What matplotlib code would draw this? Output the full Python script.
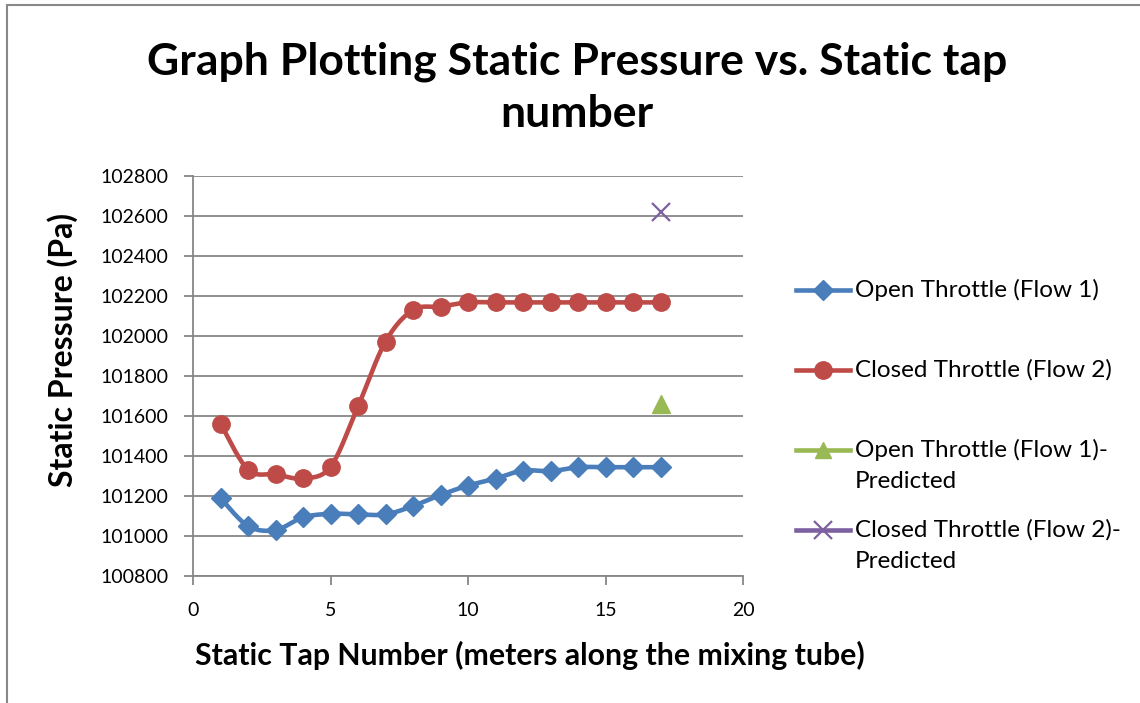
import numpy as np
import matplotlib.pyplot as plt
from matplotlib.lines import Line2D
from matplotlib.patches import Rectangle

plt.rcParams['font.family'] = ['Lato', 'DejaVu Sans']

tap = list(range(1, 18))
open_flow1 = [101190, 101050, 101030, 101093, 101111, 101108, 101108, 101150,
              101205, 101252, 101287, 101327, 101324, 101344, 101344, 101344, 101344]
closed_flow2 = [101562, 101332, 101308, 101288, 101346, 101648, 101972, 102130,
                102147, 102168, 102168, 102168, 102168, 102168, 102168, 102168, 102168]
pred_tap = [17]
open_pred = [101658]
closed_pred = [102618]

labels = ['Open Throttle (Flow 1)', 'Closed Throttle (Flow 2)',
          'Open Throttle (Flow 1)-\nPredicted', 'Closed Throttle (Flow 2)-\nPredicted']

BLUE = '#4A7EBB'
RED = '#BE4B48'
GREEN = '#98B954'
PURPLE = '#7D60A0'
GRID = '#878787'


def Smooth(xs, ys, n=20):
    # bezier smoothing through the points, like the spreadsheet "smoothed line"
    xs = np.asarray(xs, float)
    ys = np.asarray(ys, float)
    px = np.concatenate([[xs[0]], xs, [xs[-1]]])
    py = np.concatenate([[ys[0]], ys, [ys[-1]]])
    outX, outY = [], []
    t = np.linspace(0, 1, n)
    for i in range(1, len(px) - 2):
        p0 = np.array([px[i], py[i]])
        p3 = np.array([px[i + 1], py[i + 1]])
        c1 = p0 + (np.array([px[i + 1], py[i + 1]]) - np.array([px[i - 1], py[i - 1]])) / 6
        c2 = p3 - (np.array([px[i + 2], py[i + 2]]) - np.array([px[i], py[i]])) / 6
        pts = ((1 - t) ** 3)[:, None] * p0 + (3 * (1 - t) ** 2 * t)[:, None] * c1 \
            + (3 * (1 - t) * t ** 2)[:, None] * c2 + (t ** 3)[:, None] * p3
        outX.extend(pts[:, 0])
        outY.extend(pts[:, 1])
    return outX, outY


fig = plt.figure(figsize=(11.4, 7.03), dpi=100)
fig.add_artist(Rectangle((7 / 1140, -0.1), 1.2, (703 - 5) / 703 + 0.1, transform=fig.transFigure,
                         fill=False, edgecolor='#888888', linewidth=1.5))
ax = fig.add_axes([193 / 1140, 127 / 703, 550 / 1140, 400 / 703])

sx, sy = Smooth(tap, open_flow1)
ax.plot(sx, sy, color=BLUE, lw=3.3, zorder=3)
ax.plot(tap, open_flow1, ls='none', marker='D', ms=10.5, color=BLUE, zorder=4)
sx, sy = Smooth(tap, closed_flow2)
ax.plot(sx, sy, color=RED, lw=3.3, zorder=3)
ax.plot(tap, closed_flow2, ls='none', marker='o', ms=12.5, color=RED, zorder=4)
ax.plot(pred_tap, open_pred, ls='none', marker='^', ms=13, color=GREEN, zorder=4)
ax.plot(pred_tap, closed_pred, ls='none', marker='x', ms=13, mew=1.6, color=PURPLE, zorder=4)

# legend drawn by hand so multi-line entries line up with their first line
styles = [(BLUE, 'D', 10.5, 1), (RED, 'o', 12.5, 1), (GREEN, '^', 12, 1), (PURPLE, 'x', 13, 1.6)]
for i, (c, m, ms, mew) in enumerate(styles):
    yc = 1 - (290 + 80 * i) / 703
    fig.add_artist(Line2D([796 / 1140, 850 / 1140], [yc, yc], transform=fig.transFigure,
                          color=c, lw=3.3, marker=None))
    fig.add_artist(Line2D([823 / 1140], [yc], transform=fig.transFigure, color=c,
                          ls='none', marker=m, ms=ms, mew=mew))
    for j, part in enumerate(labels[i].split('\n')):
        fig.text(855 / 1140, yc - j * 31 / 703, part, ha='left', va='center', fontsize=17.5)

ax.set_xlim(0, 20)
ax.set_ylim(100800, 102800)
ax.set_xticks([0, 5, 10, 15, 20])
ax.set_yticks(range(100800, 102801, 200))
ax.grid(axis='y', color=GRID, lw=1.3)
ax.set_axisbelow(True)
for s in ['top', 'right']:
    ax.spines[s].set_visible(False)
for s in ['left', 'bottom']:
    ax.spines[s].set_color(GRID)
    ax.spines[s].set_linewidth(1.3)
ax.tick_params(length=6.5, width=1.3, color=GRID, labelsize=14)
ax.tick_params(axis='x', pad=12)
ax.tick_params(axis='y', pad=11)

ax.set_xlabel('Static Tap Number (meters along the mixing tube)', fontsize=21.8,
              fontweight='bold')
ax.xaxis.set_label_coords(0.612, -0.163)
ax.set_ylabel('Static Pressure (Pa)', fontsize=23, fontweight='bold')
ax.yaxis.set_label_coords(-0.21, 0.565)

fig.text(577 / 1140, 1 - 88 / 703, 'Graph Plotting Static Pressure vs. Static tap\nnumber',
         ha='center', va='center', fontsize=32, fontweight='bold', linespacing=1.36)

fig.savefig('out.png', dpi=100)
